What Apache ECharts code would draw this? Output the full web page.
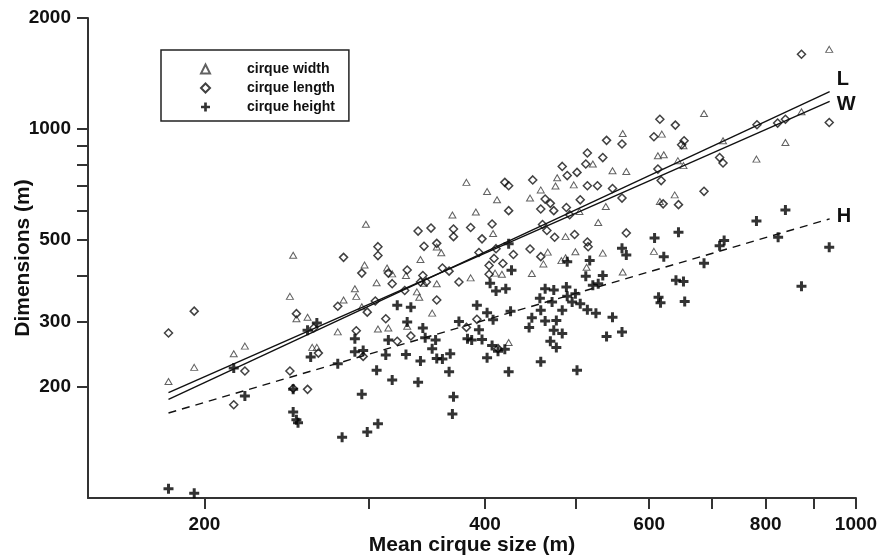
<!DOCTYPE html>
<html>
<head>
<meta charset="utf-8">
<script src="https://cdn.jsdelivr.net/npm/echarts@6/dist/echarts.min.js"></script>
<style>
  html, body { margin: 0; padding: 0; background: #fff; }
  #main { width: 877px; height: 558px; }
</style>
</head>
<body>
<div id="main"></div>
<script>
// values: [mean cirque size (m), dimension (m)]
const widthPts = [
  [183,207],[195,226],[215,246],[221,258],[247,352],[251,306],[249,455],[298,552],[382,717],[402,677],
  [412,643],[369,585],[391,596],[447,650],[459,684],[478,738],[476,701],[498,706],[505,598],[488,511],
  [500,465],[408,521],[355,479],[359,462],[341,443],[297,428],[314,420],[318,405],[467,464],[483,440],
  [488,448],[462,431],[417,404],[449,406],[386,395],[410,407],[306,383],[329,401],[355,381],[290,369],
  [291,352],[282,344],[295,330],[338,362],[340,350],[344,382],[258,309],[278,282],[261,256],[264,256],
  [307,287],[315,289],[330,292],[351,317],[424,264],[514,422],[936,1644],[874,1114],[840,920],[782,829],
  [687,1102],[720,930],[653,901],[619,969],[562,973],[613,847],[622,852],[644,821],[653,796],[548,771],
  [567,767],[522,804],[639,663],[616,636],[539,617],[529,558],[535,461],[562,410],[607,466]
]
const lengthPts = [
  [183,280],[195,321],[221,221],[215,179],[247,221],[249,198],[251,316],[515,861],[513,804],[484,792],
  [490,748],[502,763],[515,702],[450,728],[420,717],[424,702],[424,601],[464,646],[470,629],[459,607],
  [474,601],[489,613],[493,586],[506,643],[461,551],[466,531],[475,509],[499,518],[447,473],[459,451],
  [516,480],[515,494],[407,553],[386,541],[370,536],[350,539],[339,529],[370,511],[397,504],[355,490],
  [344,481],[307,480],[307,454],[282,449],[394,463],[404,427],[409,446],[418,432],[429,457],[411,474],
  [295,407],[330,415],[360,420],[366,412],[343,401],[315,407],[346,385],[341,385],[318,381],[328,365],
  [305,342],[278,331],[355,344],[375,385],[404,404],[392,305],[382,290],[299,319],[313,306],[291,284],
  [262,289],[265,247],[296,242],[322,266],[333,275],[258,197],[413,254],[874,1595],[936,1042],[783,1027],
  [824,1038],[840,1063],[616,1063],[640,1025],[607,953],[654,930],[650,907],[540,932],[561,911],[535,837],
  [714,837],[720,809],[613,779],[618,725],[548,690],[528,702],[561,650],[687,678],[621,627],[645,624],
  [567,523]
]
const heightPts = [
  [183,106],[195,103],[215,225],[221,189],[249,197],[249,171],[251,163],[252,160],[258,285],[264,298],
  [260,241],[278,231],[281,146],[290,270],[290,249],[296,251],[295,191],[299,151],[307,159],[306,222],
  [313,244],[315,268],[318,209],[322,333],[333,329],[330,300],[329,245],[339,206],[341,235],[343,289],
  [345,272],[351,254],[354,268],[355,239],[360,238],[367,246],[366,220],[370,188],[369,169],[375,301],
  [383,270],[387,268],[392,333],[394,286],[397,269],[402,318],[402,240],[405,382],[407,259],[408,304],
  [411,364],[413,250],[420,253],[421,369],[424,220],[424,489],[426,321],[427,414],[446,290],[449,308],
  [458,348],[459,323],[459,234],[464,369],[464,302],[470,266],[472,340],[474,285],[474,366],[477,303],
  [477,256],[484,323],[484,279],[489,373],[490,437],[490,352],[496,340],[500,358],[502,222],[506,336],
  [513,399],[515,324],[518,440],[535,401],[522,377],[529,381],[526,317],[548,309],[561,282],[540,274],
  [561,475],[567,456],[608,507],[622,451],[645,525],[614,350],[617,338],[655,341],[641,389],[653,386],
  [687,433],[714,483],[722,499],[782,563],[840,603],[825,509],[936,478],[874,375]
]

// fitted power-law lines, end points
const fitL = [[183,185],[937,1264]]
const fitW = [[183,193],[937,1188]]
const fitH = [[183,170],[937,571]]

const xTicks = [200,300,400,500,600,700,800,900,1000]
const xLabels = [200,400,600,800,1000]
const yTicks = [200,300,400,500,600,700,800,900,1000,2000]
const yLabels = [200,300,500,1000,2000]

const font = "'Liberation Sans', Arial, sans-serif"
const ink = '#111'
const axisColor = '#333'
// thick plus sign, arms 3/10 of the symbol size
const plus = 'path://M3.5,0H6.5V3.5H10V6.5H6.5V10H3.5V6.5H0V3.5H3.5Z'

const myChart = echarts.init(document.getElementById('main'))

function fitLine(name, data, dashed, label, dy) {
  return {
    name, type: 'line', data, symbol: 'none', silent: true, z: 3,
    lineStyle: { color: ink, width: 1.4, type: dashed ? [8, 6] : 'solid' },
    endLabel: {
      show: true, formatter: label, distance: 7, offset: [0, dy],
      fontSize: 20, fontWeight: 'bold', color: ink, fontFamily: font
    }
  }
}

function axisText(size) {
  return { fontSize: size, fontWeight: 'bold', color: ink, fontFamily: font }
}

const option = {
  animation: false,
  backgroundColor: '#fff',
  grid: { left: 88, right: 21, top: 18, bottom: 60, containLabel: false, outerBoundsMode: 'none' },
  legend: {
    orient: 'vertical', left: 161, top: 50,
    data: ['cirque width', 'cirque length', 'cirque height'],
    itemWidth: 9, itemHeight: 9, itemGap: 5, symbolKeepAspect: true,
    padding: [12, 14, 7, 39],
    borderColor: '#222', borderWidth: 1.5,
    selectedMode: false,
    textStyle: Object.assign(axisText(14), { lineHeight: 14, padding: [0, 0, 0, 32] })
  },
  xAxis: {
    type: 'log', logBase: 10, min: 150, max: 1000,
    name: 'Mean cirque size (m)', nameLocation: 'middle', nameGap: 37, nameMoveOverlap: false,
    nameTextStyle: axisText(21),
    axisLine: { onZero: false, lineStyle: { color: axisColor, width: 2 } },
    axisTick: { length: 11, customValues: xTicks, lineStyle: { color: axisColor, width: 2 } },
    axisLabel: Object.assign(axisText(19), { customValues: xLabels, margin: 17, formatter: v => String(v) }),
    splitLine: { show: false }
  },
  yAxis: {
    type: 'log', logBase: 10, min: 100, max: 2000,
    name: 'Dimensions (m)', nameLocation: 'middle', nameGap: 54, nameMoveOverlap: false,
    nameTextStyle: axisText(21),
    axisLine: { onZero: false, lineStyle: { color: axisColor, width: 2 } },
    axisTick: { length: 11, customValues: yTicks, lineStyle: { color: axisColor, width: 2 } },
    axisLabel: Object.assign(axisText(19), { customValues: yLabels, margin: 17, formatter: v => String(v) }),
    splitLine: { show: false }
  },
  series: [
    {
      name: 'cirque width', type: 'scatter', data: widthPts,
      symbol: 'triangle', symbolSize: [7, 6],
      itemStyle: { color: 'rgba(0,0,0,0)', borderColor: '#3a3a3a', borderWidth: 1 }
    },
    {
      name: 'cirque length', type: 'scatter', data: lengthPts,
      symbol: 'diamond', symbolSize: 8,
      itemStyle: { color: 'rgba(0,0,0,0)', borderColor: ink, borderWidth: 1.5 }
    },
    {
      name: 'cirque height', type: 'scatter', data: heightPts,
      symbol: plus, symbolSize: 10,
      itemStyle: { color: '#000' }
    },
    fitLine('L', fitL, false, 'L', -12),
    fitLine('W', fitW, false, 'W', 3),
    fitLine('H', fitH, true, 'H', -2)
  ]
}

myChart.setOption(option)
</script>
</body>
</html>
